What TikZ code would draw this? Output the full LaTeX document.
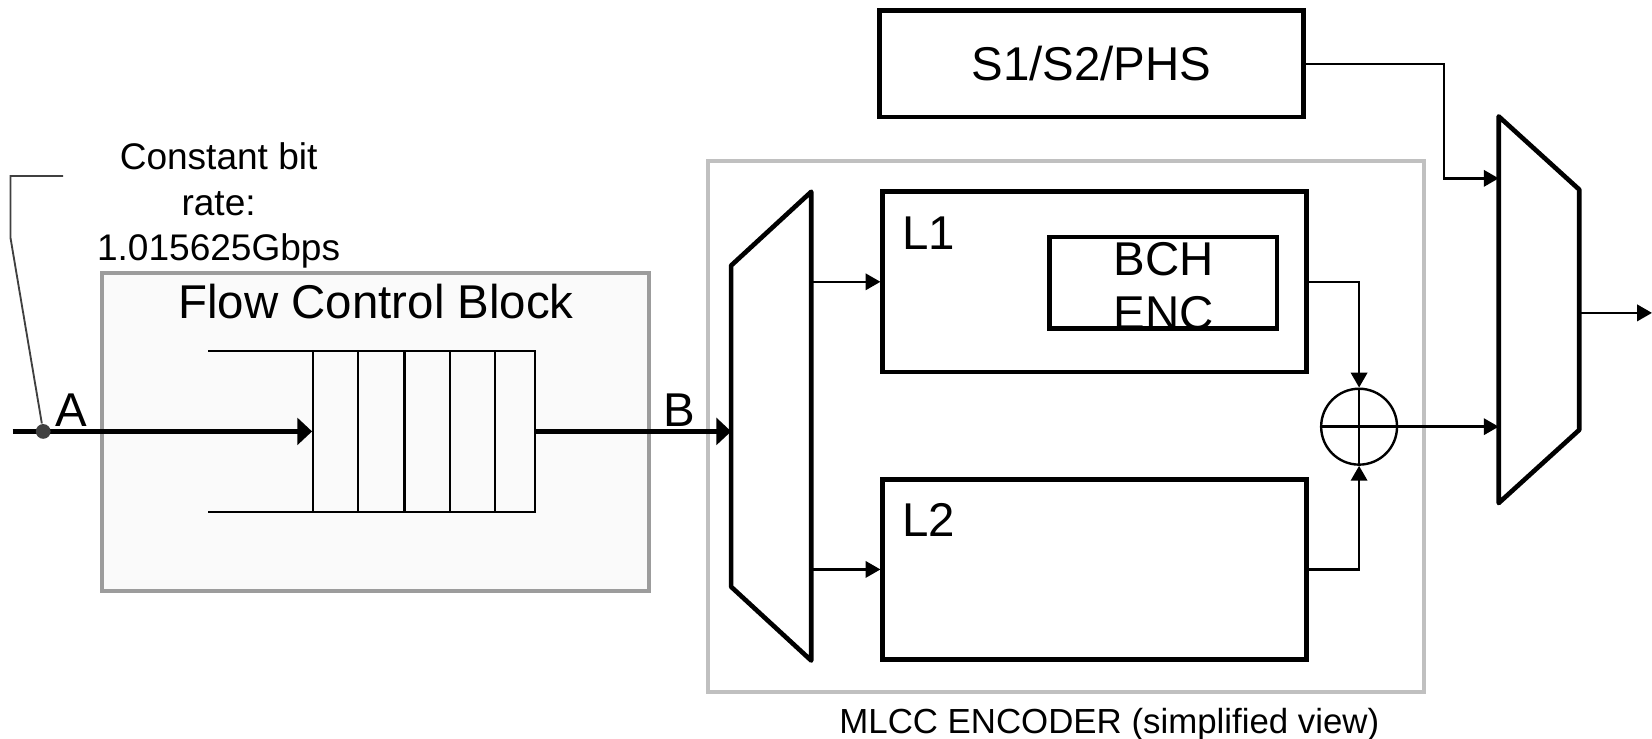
\documentclass[tikz,border=0pt]{standalone}
\usepackage{fontspec}
\setmainfont{Liberation Sans}
\usepackage{tikz}
\usetikzlibrary{arrows.meta}
\definecolor{grigio}{HTML}{9C9C9C}
\definecolor{grigiochiaro}{HTML}{C0C0C0}
\definecolor{sfondo}{HTML}{FAFAFA}
\definecolor{scuro}{HTML}{404040}

\tikzset{
  blocco/.style={draw, rectangle, line width=1.25pt},
  linea/.style={line width=0.65pt},
  freccia/.style={line width=0.65pt, -{Triangle[length=4pt,width=4.4pt]}},
  spessa/.style={line width=1.3pt, -{Triangle[length=4pt,width=7.2pt]}},
  testo/.style={inner sep=0pt, font=\fontsize{12.8pt}{15pt}\selectfont},
}

\begin{document}
\begin{tikzpicture}[x=0.01cm, y=-0.01cm]
    \useasboundingbox (0,0) rectangle (1568,701);
    % blocco di controllo di flusso
    \node[draw=grigio, fill=sfondo, line width=1.1pt, minimum width=5.19cm, minimum height=3.02cm] (fcb) at (356.5,410) {};
    \node[testo, anchor=base] (fcbtitolo) at (357,302) {Flow Control Block};
    % coda
    \node[inner sep=0pt, minimum width=2.11cm, minimum height=1.51cm] (coda) at (402.5,409.5) {};
    \draw[linea] (coda.north east) -- ++(-311,0);
    \draw[linea] (coda.south east) -- ++(-311,0);
    \foreach \x in {297,340,384,427,470,508}
        \draw[linea] (\x,334) -- (\x,485);
    % ingresso
    \coordinate (ingresso) at (12,409.5);
    \draw[spessa] (ingresso) -- (coda.west);
    \node[circle, fill=scuro, minimum size=0.14cm, inner sep=0pt] (punto) at (41,409.5) {};
    \coordinate (nota) at (60,167);
    \draw[scuro, line width=0.5pt] (nota) -- (10,167) -- (10,226) -- (punto);
    \node[anchor=north, align=center, inner sep=0pt, font=\fontsize{10pt}{12.2pt}\selectfont] (velocita) at (207.5,135) {Constant bit\\rate:\\1.015625Gbps};
    \node[testo, anchor=base west] (etA) at (52,405) {A};
    \node[testo, anchor=base west] (etB) at (629,405) {B};
    % encoder MLCC
    \node[draw=grigiochiaro, line width=1.1pt, minimum width=6.79cm, minimum height=5.04cm] (mlcc) at (1011.5,405) {};
    \node[anchor=base west, inner sep=0pt, font=\fontsize{9.4pt}{11pt}\selectfont] (mlcctesto) at (796,696) {MLCC ENCODER (simplified view)};
    % demux
    \coordinate (m1a) at (694,252);
    \coordinate (m1b) at (770,182);
    \coordinate (m1c) at (770,627);
    \coordinate (m1d) at (694,557);
    \draw[line width=1.25pt, line join=round] (m1a) -- (m1b) -- (m1c) -- (m1d) -- cycle;
    \coordinate (m1in) at (694,409.5);
    \draw[spessa] (coda.east) -- (m1in);
    % livelli
    \node[blocco, minimum width=4.02cm, minimum height=1.71cm] (L1) at (1039,267.5) {};
    \node[blocco, minimum width=4.02cm, minimum height=1.71cm] (L2) at (1039,540.5) {};
    \node[testo, anchor=base west] (L1testo) at (855.5,237) {L1};
    \node[testo, anchor=base west] (L2testo) at (855.5,509) {L2};
    \draw[freccia] (L1.west -| m1b) -- (L1.west);
    \draw[freccia] (L2.west -| m1b) -- (L2.west);
    % BCH
    \node[blocco, minimum width=2.16cm, minimum height=0.87cm] (bch) at (1104,268.5) {};
    \begin{scope}
        \clip (bch.south west) rectangle (bch.north east);
        \node[testo, anchor=north, align=center, font=\fontsize{12.8pt}{14.8pt}\selectfont] (bchtesto) at (1104.5,229) {BCH\\ENC};
    \end{scope}
    % somma
    \node[circle, draw, line width=0.65pt, minimum size=0.72cm, inner sep=0pt] (xor) at (1290,405) {};
    \draw[linea] (xor.north) -- (xor.south);
    \draw[linea] (xor.west) -- (xor.east);
    \draw[freccia] (L1.east) -| (xor.north);
    \draw[freccia] (L2.east) -| (xor.south);
    % S1/S2/PHS
    \node[blocco, testo, minimum width=4.02cm, minimum height=1.01cm] (sbox) at (1036,60.5) {S1/S2/PHS};
    % mux
    \coordinate (m2a) at (1422.5,110.5);
    \coordinate (m2b) at (1499,180);
    \coordinate (m2c) at (1499,408);
    \coordinate (m2d) at (1422.5,477.5);
    \draw[line width=1.25pt, line join=round] (m2a) -- (m2b) -- (m2c) -- (m2d) -- cycle;
    \coordinate (m2in1) at (1422.5,169.3);
    \coordinate (m2in2) at (1422.5,405);
    \coordinate (m2out) at (1499,297);
    \coordinate (uscita) at (1568,297);
    \draw[freccia] (sbox.east) -- ++(131,0) |- (m2in1);
    \draw[freccia] (xor.east) -- (m2in2);
    \draw[freccia] (m2out) -- (uscita);
\end{tikzpicture}
\end{document}
